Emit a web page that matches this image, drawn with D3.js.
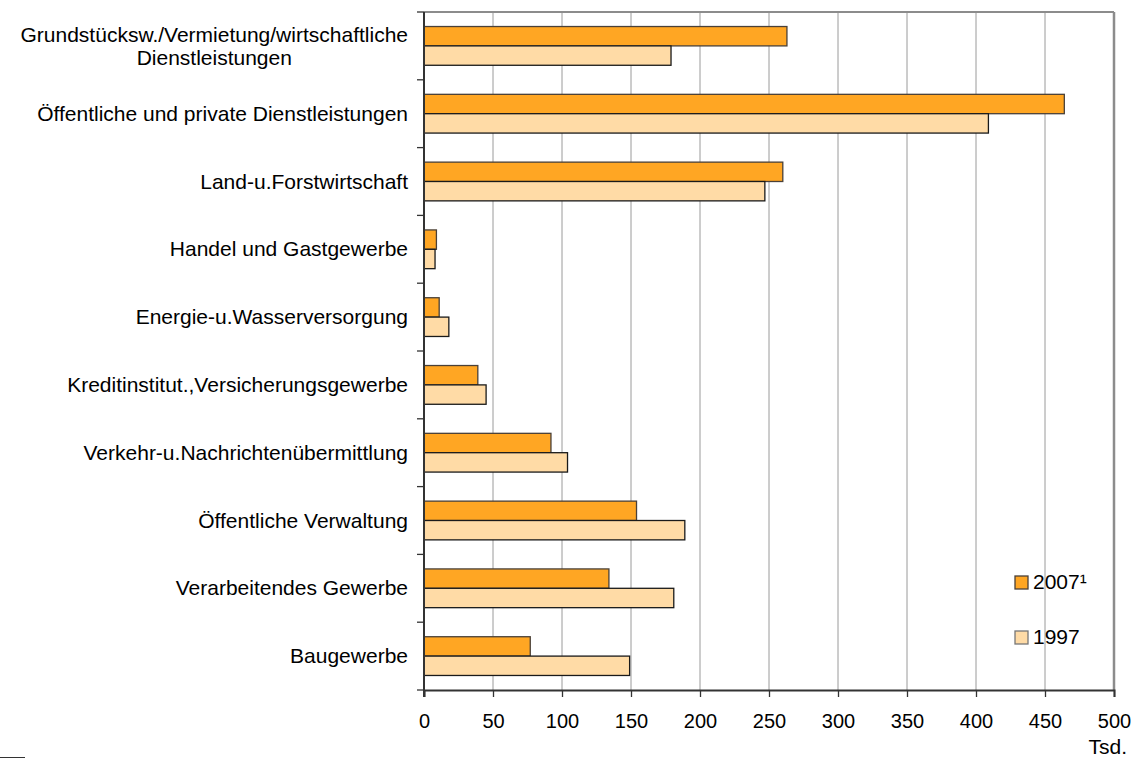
<!DOCTYPE html>
<html>
<head>
<meta charset="utf-8">
<script src="https://cdn.jsdelivr.net/npm/d3@7"></script>
<style>
	body { margin: 0; background: #fff; }
	text { font-family: "Liberation Sans", Arial, sans-serif; font-size: 21px; fill: #000; }
	.x.axis text { font-size: 20px; }
</style>
</head>
<body>
<div id="chart"></div>
<script>
// data
var categories = [
	["Grundstücksw./Vermietung/wirtschaftliche", "Dienstleistungen"],
	["Öffentliche und private Dienstleistungen"],
	["Land-u.Forstwirtschaft"],
	["Handel und Gastgewerbe"],
	["Energie-u.Wasserversorgung"],
	["Kreditinstitut.,Versicherungsgewerbe"],
	["Verkehr-u.Nachrichtenübermittlung"],
	["Öffentliche Verwaltung"],
	["Verarbeitendes Gewerbe"],
	["Baugewerbe"]
];
var values_2007 = [263, 464, 260, 9, 11, 39, 92, 154, 134, 77];
var values_1997 = [179, 409, 247, 8, 18, 45, 104, 189, 181, 149];
var series_names = ["2007¹", "1997"];
var x_ticks = [0, 50, 100, 150, 200, 250, 300, 350, 400, 450, 500];
var unit_label = "Tsd.";

// magic numbers
var margin = {top: 12, bottom: 68, left: 424, right: 21},
	width = 1135 - margin.left - margin.right,
	height = 758 - margin.top - margin.bottom;

var colors = ["#ffa623", "#ffdba6"];

var svg = d3.select("#chart").append("svg")
		.attr("width", 1135)
		.attr("height", 758)
	.append("g")
		.attr("transform", "translate(" + margin.left + "," + margin.top + ")");

var keys = categories.map(function(d, i){ return i; });

var xScale = d3.scaleLinear()
		.domain([0, 500])
		.range([0, width]);

var yScale = d3.scaleBand()
		.domain(keys)
		.range([0, height])
		.padding(0);

var subScale = d3.scaleBand()
		.domain([0, 1])
		.range([0, yScale.bandwidth()])
		.paddingInner(0)
		.paddingOuter(0.75);

// grid lines
svg.selectAll(".grid")
		.data(x_ticks.slice(1, -1))
	.enter().append("line")
		.attr("class", "grid")
		.attr("x1", function(d){ return xScale(d); })
		.attr("x2", function(d){ return xScale(d); })
		.attr("y1", 0)
		.attr("y2", height)
		.attr("stroke", "#9a9a9a")
		.attr("stroke-width", 1);

// frame, top and right
svg.append("line")
		.attr("x1", 0).attr("x2", width)
		.attr("y1", 0).attr("y2", 0)
		.attr("stroke", "#8c8c8c")
		.attr("stroke-width", 2);

svg.append("line")
		.attr("x1", width).attr("x2", width)
		.attr("y1", 0).attr("y2", height)
		.attr("stroke", "#8c8c8c")
		.attr("stroke-width", 2.5);

// bars
var rows = categories.map(function(d, i){
	return {key: i, values: [values_2007[i], values_1997[i]]};
});

var group = svg.selectAll(".cat")
		.data(rows)
	.enter().append("g")
		.attr("class", "cat")
		.attr("transform", function(d){ return "translate(0," + yScale(d.key) + ")"; });

group.selectAll("rect")
		.data(function(d){ return d.values.map(function(v, j){ return {s: j, value: v}; }); })
	.enter().append("rect")
		.attr("x", xScale(0))
		.attr("y", function(d){ return subScale(d.s); })
		.attr("width", function(d){ return xScale(d.value) - xScale(0); })
		.attr("height", subScale.bandwidth())
		.attr("fill", function(d){ return colors[d.s]; })
		.attr("stroke", function(d){ return d.s == 0 ? "#4a4038" : "#1a1a1a"; })
		.attr("stroke-width", 1.3);

// x axis
var xAxis = d3.axisBottom(xScale)
		.tickValues(x_ticks)
		.tickSize(7)
		.tickFormat(d3.format("d"));

var gx = svg.append("g")
		.attr("class", "x axis")
		.attr("transform", "translate(0," + height + ")")
		.call(xAxis);

gx.attr("font-size", null).attr("font-family", null);
gx.select(".domain").attr("stroke", "#333").attr("stroke-width", 2);
gx.selectAll(".tick line").attr("stroke", "#333").attr("stroke-width", 1.3);
gx.selectAll(".tick text")
		.attr("dy", null)
		.attr("y", 38);

svg.append("text")
		.attr("x", width + 13)
		.attr("y", height + 64)
		.attr("text-anchor", "end")
		.text(unit_label);

// y axis line and ticks at band edges
svg.append("line")
		.attr("x1", 0).attr("x2", 0)
		.attr("y1", 0).attr("y2", height + 7)
		.attr("stroke", "#333")
		.attr("stroke-width", 2);

svg.selectAll(".ytick")
		.data(keys.concat([keys.length]))
	.enter().append("line")
		.attr("class", "ytick")
		.attr("x1", -7).attr("x2", 0)
		.attr("y1", function(d){ return d < keys.length ? yScale(d) : height; })
		.attr("y2", function(d){ return d < keys.length ? yScale(d) : height; })
		.attr("stroke", "#333")
		.attr("stroke-width", 1.3);

// category labels
var labels = svg.selectAll(".cat-label")
		.data(categories)
	.enter().append("text")
		.attr("class", "cat-label")
		.attr("y", function(d, i){ return yScale(i) + yScale.bandwidth() / 2; });

labels.each(function(d){
	var el = d3.select(this);
	if (d.length == 1){
		el.append("tspan")
			.attr("x", -16)
			.attr("dy", 7)
			.attr("text-anchor", "end")
			.text(d[0]);
	} else {
		// two lines, centered under the longer one
		var first = el.append("tspan")
			.attr("dy", -4)
			.attr("text-anchor", "middle")
			.text(d[0]);
		var w = first.node().getComputedTextLength();
		first.attr("x", -16 - w / 2);
		el.append("tspan")
			.attr("x", -16 - w / 2)
			.attr("dy", 23)
			.attr("text-anchor", "middle")
			.text(d[1]);
	}
});

// legend
var legend = svg.selectAll(".legend")
		.data(series_names)
	.enter().append("g")
		.attr("class", "legend")
		.attr("transform", function(d, i){ return "translate(" + (1015 - margin.left) + "," + (576 - margin.top + i * 55) + ")"; });

legend.append("rect")
		.attr("width", 13)
		.attr("height", 13)
		.attr("fill", function(d, i){ return colors[i]; })
		.attr("stroke", function(d, i){ return i == 0 ? "#4a4038" : "#777"; })
		.attr("stroke-width", 1.3);

legend.append("text")
		.attr("x", 18)
		.attr("y", 13)
		.text(function(d){ return d; });

// footnote rule
d3.select("svg").append("line")
		.attr("x1", 0).attr("x2", 25)
		.attr("y1", 757.5).attr("y2", 757.5)
		.attr("stroke", "#333")
		.attr("stroke-width", 1);
</script>
</body>
</html>
